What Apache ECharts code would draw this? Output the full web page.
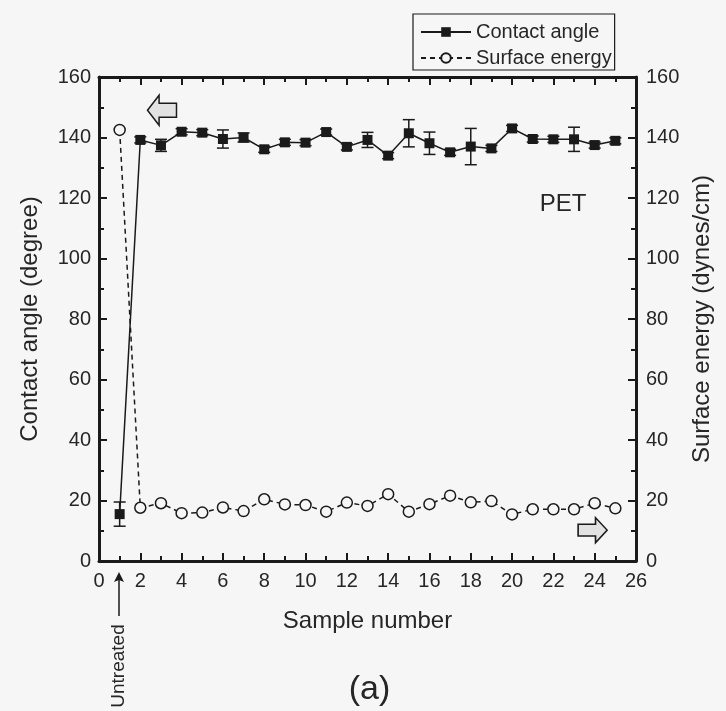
<!DOCTYPE html>
<html>
<head>
<meta charset="utf-8">
<script src="https://cdn.jsdelivr.net/npm/echarts@6/dist/echarts.min.js"></script>
<style>html,body{margin:0;padding:0;background:#f6f6f6;}#c{width:726px;height:711px;}</style>
</head>
<body>
<div id="c"></div>
<script>
// ---- data ----
const samples = [1,2,3,4,5,6,7,8,9,10,11,12,13,14,15,16,17,18,19,20,21,22,23,24,25];
const contactAngle = [15.5,139.2,137.4,141.9,141.6,139.5,140,136.1,138.4,138.3,141.8,136.9,139.2,134,141.4,138.1,135.1,137,136.4,143,139.5,139.4,139.4,137.5,138.9];
const contactErr   = [4,1,2,1,1,3,1.5,1,1,1,1,1,2.5,1,4.5,3.7,1,6,1,1,1,1,4,1,1];
const surfaceEnergy = [142.5,17.6,19.1,15.8,16,17.7,16.5,20.4,18.7,18.5,16.3,19.3,18.2,22.1,16.3,18.8,21.6,19.4,19.8,15.4,17.1,17.1,17.1,19.1,17.4];
const xTicks = {min:0, max:26, interval:2};
const yTicks = {min:0, max:160, interval:20};

const caData = samples.map((s,i)=>[s, contactAngle[i]]);
const caErrData = samples.map((s,i)=>[s, contactAngle[i], contactErr[i]]);
const seData = samples.map((s,i)=>[s, surfaceEnergy[i]]);

const ink = '#1a1a1a';
const txt = '#262626';
const bg = '#f6f6f6';
const font = 'Liberation Sans, Arial, sans-serif';

function xAx(pos, showLabel){
  return {
    type:'value', position:pos, min:xTicks.min, max:xTicks.max, interval:xTicks.interval,
    axisLine:{show:true, onZero:false, lineStyle:{color:ink, width:3}},
    axisTick:{show:true, inside:true, length:8, lineStyle:{color:ink, width:2}},
    minorTick:{show:true, splitNumber:2, length:5, lineStyle:{color:ink, width:2}},
    splitLine:{show:false},
    axisLabel:{show:showLabel, fontSize:20, color:txt, margin:10, fontFamily:font},
    name: showLabel ? 'Sample number' : '', nameLocation:'middle', nameGap:48,
    nameTextStyle:{fontSize:24, color:txt, fontFamily:font}
  };
}
function yAx(pos, name, margin, gap){
  return {
    type:'value', position:pos, min:yTicks.min, max:yTicks.max, interval:yTicks.interval,
    axisLine:{show:true, onZero:false, lineStyle:{color:ink, width:3}},
    axisTick:{show:true, inside:true, length:8, lineStyle:{color:ink, width:2}},
    minorTick:{show:true, splitNumber:2, length:5, lineStyle:{color:ink, width:2}},
    splitLine:{show:false},
    axisLabel:{fontSize:20, color:txt, margin:margin, fontFamily:font},
    name:name, nameLocation:'middle', nameGap:gap,
    nameTextStyle:{fontSize:24, color:txt, fontFamily:font}
  };
}

const leftArrow = 'path://M0,15 L12,0 L12,8 L30,8 L30,22 L12,22 L12,30 Z';
const rightArrow = 'path://M30,15 L18,0 L18,8 L0,8 L0,22 L18,22 L18,30 Z';

const chart = echarts.init(document.getElementById('c'), null, {renderer:'canvas'});
chart.setOption({
  backgroundColor:bg,
  animation:false,
  textStyle:{fontFamily:font},
  grid:{left:99, right:90, top:77, bottom:150, containLabel:false},
  legend:{
    orient:'vertical', left:413, top:14, itemWidth:50, itemHeight:12, itemGap:6,
    borderColor:ink, borderWidth:1.2, padding:[8,3,2,7],
    textStyle:{fontSize:20, color:txt, fontFamily:font},
    data:['Contact angle','Surface energy']
  },
  xAxis:[xAx('bottom', true), xAx('top', false)],
  yAxis:[yAx('left','Contact angle (degree)', 8, 57), yAx('right','Surface energy (dynes/cm)', 10, 52)],
  series:[
    {
      type:'custom', name:'err', xAxisIndex:0, yAxisIndex:0, z:3,
      renderItem:function(params, api){
        const x = api.value(0), y = api.value(1), e = api.value(2);
        const top = api.coord([x, y+e]);
        const bot = api.coord([x, y-e]);
        const cap = 6;
        const st = {stroke:ink, lineWidth:1.5};
        return {type:'group', children:[
          {type:'line', shape:{x1:top[0], y1:top[1], x2:bot[0], y2:bot[1]}, style:st},
          {type:'line', shape:{x1:top[0]-cap, y1:top[1], x2:top[0]+cap, y2:top[1]}, style:st},
          {type:'line', shape:{x1:bot[0]-cap, y1:bot[1], x2:bot[0]+cap, y2:bot[1]}, style:st}
        ]};
      },
      encode:{x:0, y:1},
      data:caErrData
    },
    {
      type:'line', name:'Contact angle', xAxisIndex:0, yAxisIndex:0, z:4,
      data:caData, symbol:'rect', symbolSize:10,
      itemStyle:{color:ink}, lineStyle:{color:ink, width:1.5},
      markPoint:{
        silent:true,
        data:[
          {coord:[3.05, 149], symbol:leftArrow, symbolSize:[29,30],
           itemStyle:{color:'#e2e2e2', borderColor:ink, borderWidth:1.5}, label:{show:false}},
          {coord:[22.47, 118], symbol:'rect', symbolSize:1,
           itemStyle:{color:'rgba(0,0,0,0)'},
           label:{show:true, position:'inside', formatter:'PET', fontSize:24, color:txt, fontFamily:font}}
        ]
      }
    },
    {
      type:'line', name:'Surface energy', xAxisIndex:0, yAxisIndex:1, z:4,
      data:seData, symbol:'circle', symbolSize:11,
      itemStyle:{color:bg, borderColor:ink, borderWidth:1.5},
      lineStyle:{color:ink, width:1.5, type:[5,4]},
      markPoint:{
        silent:true,
        data:[
          {coord:[23.9, 10.2], symbol:rightArrow, symbolSize:[29,25],
           itemStyle:{color:'#e2e2e2', borderColor:ink, borderWidth:1.5}, label:{show:false}}
        ]
      }
    }
  ]
});

// annotations below the axis, positioned through the library's scales
const p = chart.convertToPixel({xAxisIndex:0, yAxisIndex:0}, [samples[0], yTicks.min]);
const ax = Math.round(p[0]) - 1;
const plotCenter = chart.convertToPixel({xAxisIndex:0}, (xTicks.min + xTicks.max)/2);
chart.setOption({
  graphic:[
    {type:'line', shape:{x1:ax, y1:p[1]+55, x2:ax, y2:p[1]+18}, style:{stroke:ink, lineWidth:1.5}},
    {type:'polygon', shape:{points:[[ax, p[1]+11],[ax-5, p[1]+21],[ax, p[1]+19],[ax+5, p[1]+21]]}, style:{fill:ink}},
    {type:'text', x:ax, y:p[1]+105, rotation:Math.PI/2,
     style:{text:'Untreated', font:'19px '+font, fill:txt, textAlign:'center', textVerticalAlign:'middle'}},
    {type:'text', x:plotCenter + 2, y:p[1]+129,
     style:{text:'(a)', font:'34px '+font, fill:txt, textAlign:'center', textVerticalAlign:'middle'}}
  ]
});
</script>
</body>
</html>
